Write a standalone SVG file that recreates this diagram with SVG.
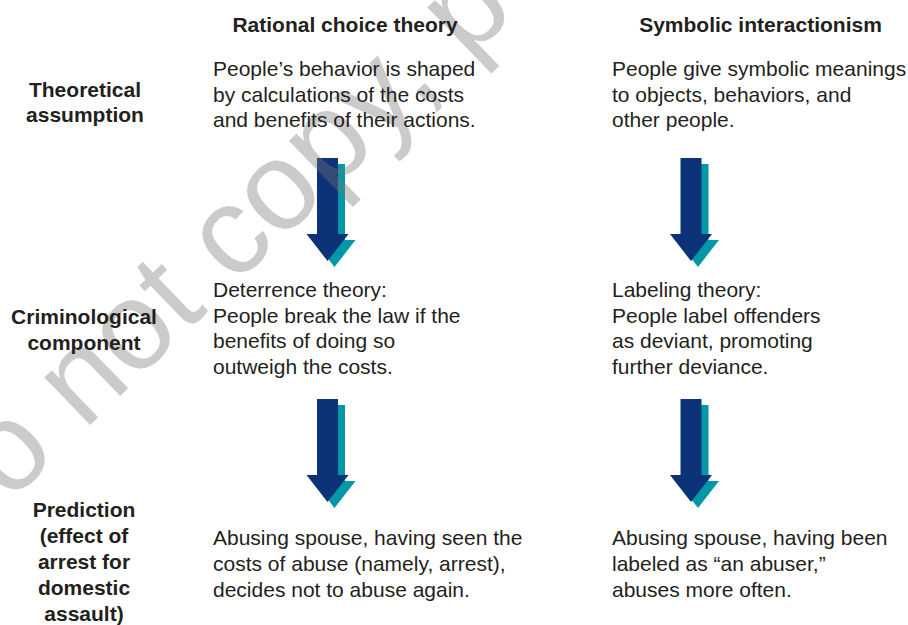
<svg xmlns="http://www.w3.org/2000/svg" width="908" height="625" viewBox="0 0 908 625">
  <style>
    .hdr { font-family: "Liberation Sans", Arial, sans-serif; font-size: 21px; font-weight: bold; fill: #231f20; text-anchor: middle; }
    .lbl { font-family: "Liberation Sans", Arial, sans-serif; font-size: 21px; font-weight: bold; fill: #231f20; text-anchor: middle; }
    .body { font-family: "Liberation Sans", Arial, sans-serif; font-size: 21px; fill: #231f20; }
    .wm { font-family: "Liberation Sans", Arial, sans-serif; font-size: 125px; fill: #777777; fill-opacity: 0.38; }
    .dark { fill: #0c3378; }
    .teal { fill: #0098a8; }
  </style>
  <defs>
    <path id="arrow" d="M-10.5,0 H10.5 V76 H21 L0,103 L-21,76 H-10.5 Z"/>
  </defs>
  <rect width="908" height="625" fill="#ffffff"/>

  <g id="connectors">
    <g id="arrow-rc-1" transform="translate(327.5,158)">
      <use href="#arrow" class="teal" transform="translate(7,6)"/>
      <use href="#arrow" class="dark"/>
    </g>
    <g id="arrow-rc-2" transform="translate(327.5,399)">
      <use href="#arrow" class="teal" transform="translate(7,6)"/>
      <use href="#arrow" class="dark"/>
    </g>
    <g id="arrow-si-1" transform="translate(691,158)">
      <use href="#arrow" class="teal" transform="translate(7,6)"/>
      <use href="#arrow" class="dark"/>
    </g>
    <g id="arrow-si-2" transform="translate(691,399)">
      <use href="#arrow" class="teal" transform="translate(7,6)"/>
      <use href="#arrow" class="dark"/>
    </g>
  </g>

  <text class="wm" transform="translate(-56,566) rotate(-44)" x="0" y="0">Do not copy, p</text>

  <g id="header-rational">
    <text class="hdr" x="345" y="32">Rational choice theory</text>
  </g>
  <g id="header-symbolic">
    <text class="hdr" x="760.5" y="32">Symbolic interactionism</text>
  </g>

  <g id="label-theoretical">
    <text class="lbl" x="85" y="97">Theoretical</text>
    <text class="lbl" x="85" y="122">assumption</text>
  </g>
  <g id="label-criminological">
    <text class="lbl" x="84" y="324">Criminological</text>
    <text class="lbl" x="84" y="350">component</text>
  </g>
  <g id="label-prediction">
    <text class="lbl" x="84" y="517">Prediction</text>
    <text class="lbl" x="84" y="543">(effect of</text>
    <text class="lbl" x="84" y="569">arrest for</text>
    <text class="lbl" x="84" y="595">domestic</text>
    <text class="lbl" x="84" y="621">assault)</text>
  </g>

  <g id="rc-assumption">
    <text class="body" x="213" y="76">People’s behavior is shaped</text>
    <text class="body" x="213" y="101.5">by calculations of the costs</text>
    <text class="body" x="213" y="127">and benefits of their actions.</text>
  </g>
  <g id="si-assumption">
    <text class="body" x="612" y="76">People give symbolic meanings</text>
    <text class="body" x="612" y="101.5">to objects, behaviors, and</text>
    <text class="body" x="612" y="127">other people.</text>
  </g>

  <g id="rc-component">
    <text class="body" x="213" y="297">Deterrence theory:</text>
    <text class="body" x="213" y="322.5">People break the law if the</text>
    <text class="body" x="213" y="348">benefits of doing so</text>
    <text class="body" x="213" y="373.5">outweigh the costs.</text>
  </g>
  <g id="si-component">
    <text class="body" x="612" y="297">Labeling theory:</text>
    <text class="body" x="612" y="322.5">People label offenders</text>
    <text class="body" x="612" y="348">as deviant, promoting</text>
    <text class="body" x="612" y="373.5">further deviance.</text>
  </g>

  <g id="rc-prediction">
    <text class="body" x="213" y="545">Abusing spouse, having seen the</text>
    <text class="body" x="213" y="571">costs of abuse (namely, arrest),</text>
    <text class="body" x="213" y="597">decides not to abuse again.</text>
  </g>
  <g id="si-prediction">
    <text class="body" x="612" y="545">Abusing spouse, having been</text>
    <text class="body" x="612" y="571">labeled as “an abuser,”</text>
    <text class="body" x="612" y="597">abuses more often.</text>
  </g>
</svg>
